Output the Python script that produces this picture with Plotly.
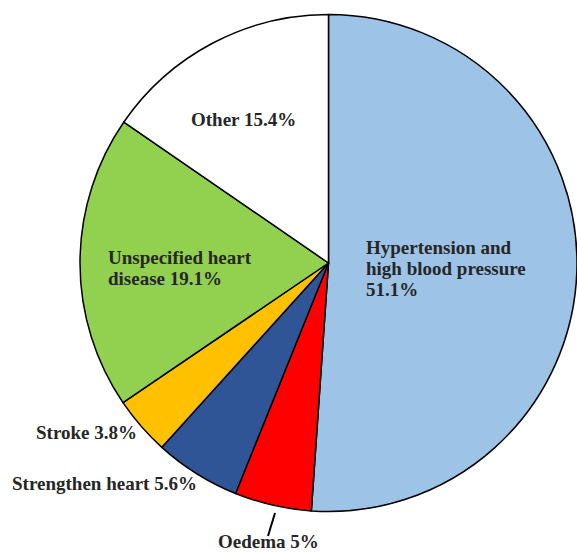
import plotly.graph_objects as go

# Slice data, clockwise from 12 o'clock
labels = ["Hypertension and high blood pressure", "Oedema", "Strengthen heart",
          "Stroke", "Unspecified heart disease", "Other"]
values = [51.1, 5, 5.6, 3.8, 19.1, 15.4]
colors = ["#9DC3E6", "#FF0000", "#2F5597", "#FFC000", "#92D050", "#FFFFFF"]

# Label text lines for each slice (the value is appended)
label_lines = [["Hypertension and", "high blood pressure"], ["Oedema"], ["Strengthen heart"],
               ["Stroke"], ["Unspecified heart", "disease"], ["Other"]]

W, H = 577, 553
FONT_SIZE = 19
LINE_STEP = 21

fig = go.Figure(go.Pie(
    labels=labels,
    values=values,
    sort=False,
    direction="clockwise",
    rotation=0,
    marker=dict(colors=colors, line=dict(color="#000000", width=1.5)),
    textinfo="none",
    hoverinfo="label+percent",
    showlegend=False,
    domain=dict(x=[80 / W, 1.0], y=[41 / H, 539 / H]),
))


def fmt(v):
    return f"{v:g}%"


def label_rows(i, newline_value):
    lines = list(label_lines[i])
    if newline_value:
        lines.append(fmt(values[i]))
    else:
        lines[-1] = lines[-1] + " " + fmt(values[i])
    return lines


# (index, left x px, first-line y px, value on its own line)
placements = [
    (0, 365, 247, True),
    (1, 217, 541, False),
    (2, 11, 483, False),
    (3, 35, 432, False),
    (4, 107, 257, False),
    (5, 190, 120, False),
]

annotations = []
for i, px, py, nl in placements:
    for k, row in enumerate(label_rows(i, nl)):
        annotations.append(dict(
            x=px / W, y=1 - (py + k * LINE_STEP) / H, xref="paper", yref="paper",
            xanchor="left", yanchor="middle", align="left",
            text=f"<b>{row}</b>", showarrow=False, borderpad=0,
            font=dict(family="Liberation Serif", size=FONT_SIZE, color="#262626"),
        ))

fig.update_layout(
    width=W, height=H,
    margin=dict(l=0, r=0, t=0, b=0),
    paper_bgcolor="white",
    plot_bgcolor="white",
    annotations=annotations,
    shapes=[dict(type="line", xref="paper", yref="paper",
                 x0=275 / W, y0=1 - 513 / H, x1=268 / W, y1=1 - 536 / H,
                 line=dict(color="#000000", width=2))],
)

fig.write_html("out.html")
